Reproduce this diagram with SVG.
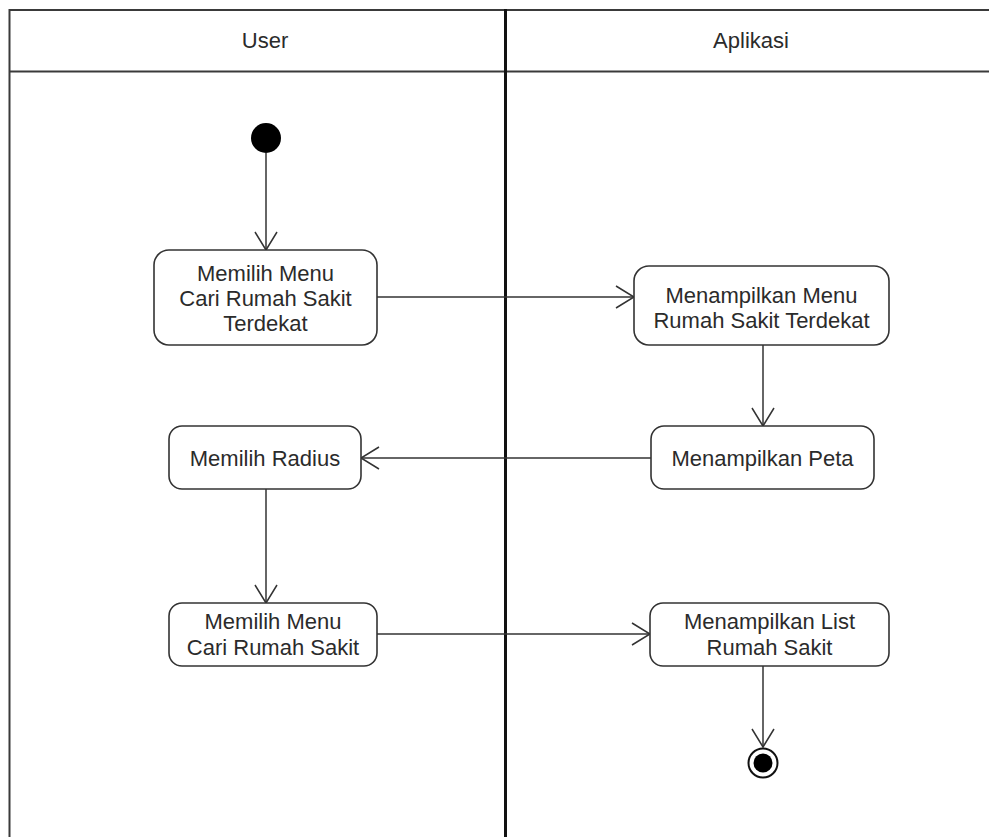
<svg xmlns="http://www.w3.org/2000/svg" width="989" height="837" viewBox="0 0 989 837">
  <style>
    .lane { fill: none; stroke: #3a3a3a; stroke-width: 2; }
    .divider { fill: none; stroke: #111; stroke-width: 3; }
    .act { fill: #fff; stroke: #333; stroke-width: 1.6; }
    .flow { fill: none; stroke: #333; stroke-width: 1.5; marker-end: url(#open); }
    text { font-family: "Liberation Sans", Arial, sans-serif; font-size: 22px; fill: #2b2b2b; text-anchor: middle; }
  </style>
  <defs>
    <marker id="open" markerUnits="userSpaceOnUse" markerWidth="22" markerHeight="26" refX="19" refY="12" orient="auto" overflow="visible">
      <path d="M1,1 L19,12 L1,23" fill="none" stroke="#333" stroke-width="1.5"/>
    </marker>
  </defs>
  <rect width="989" height="837" fill="#fff"/>

  <!-- swimlane frame -->
  <g id="lanes">
    <line class="lane" x1="9.5" y1="10" x2="989" y2="10"/>
    <line class="lane" x1="9.5" y1="71.5" x2="989" y2="71.5"/>
    <line class="lane" x1="9.5" y1="9" x2="9.5" y2="837"/>
    <line class="divider" x1="505.5" y1="9" x2="505.5" y2="837"/>
    <text x="265" y="48">User</text>
    <text x="751" y="48">Aplikasi</text>
  </g>

  <!-- flows -->
  <g id="connectors">
    <line class="flow" x1="266" y1="153" x2="266" y2="250"/>
    <line class="flow" x1="377" y1="297" x2="634" y2="297"/>
    <line class="flow" x1="763" y1="345" x2="763" y2="426"/>
    <line class="flow" x1="651" y1="458" x2="361" y2="458"/>
    <line class="flow" x1="266" y1="489" x2="266" y2="603"/>
    <line class="flow" x1="377" y1="634" x2="650" y2="634"/>
    <line class="flow" x1="763" y1="666" x2="763" y2="747"/>
  </g>

  <g id="start">
    <circle cx="266" cy="138" r="15" fill="#000"/>
  </g>

  <g id="pilihMenuTerdekat">
    <rect class="act" x="154" y="250" width="223" height="95" rx="15"/>
    <text x="265.5" y="281">Memilih Menu</text>
    <text x="265.5" y="306">Cari Rumah Sakit</text>
    <text x="265.5" y="331">Terdekat</text>
  </g>

  <g id="tampilMenuTerdekat">
    <rect class="act" x="634" y="266" width="255" height="79" rx="15"/>
    <text x="761.5" y="303">Menampilkan Menu</text>
    <text x="761.5" y="328">Rumah Sakit Terdekat</text>
  </g>

  <g id="tampilPeta">
    <rect class="act" x="651" y="426" width="223" height="63" rx="13"/>
    <text x="762.5" y="466">Menampilkan Peta</text>
  </g>

  <g id="pilihRadius">
    <rect class="act" x="169" y="426" width="192" height="63" rx="13"/>
    <text x="265" y="466">Memilih Radius</text>
  </g>

  <g id="pilihMenuCari">
    <rect class="act" x="169" y="603" width="208" height="63" rx="13"/>
    <text x="273" y="629">Memilih Menu</text>
    <text x="273" y="655">Cari Rumah Sakit</text>
  </g>

  <g id="tampilList">
    <rect class="act" x="650" y="603" width="239" height="63" rx="13"/>
    <text x="769.5" y="629">Menampilkan List</text>
    <text x="769.5" y="655">Rumah Sakit</text>
  </g>

  <g id="end">
    <circle cx="763" cy="763" r="14.5" fill="#fff" stroke="#111" stroke-width="2"/>
    <circle cx="763" cy="763" r="9.5" fill="#000"/>
  </g>
</svg>
